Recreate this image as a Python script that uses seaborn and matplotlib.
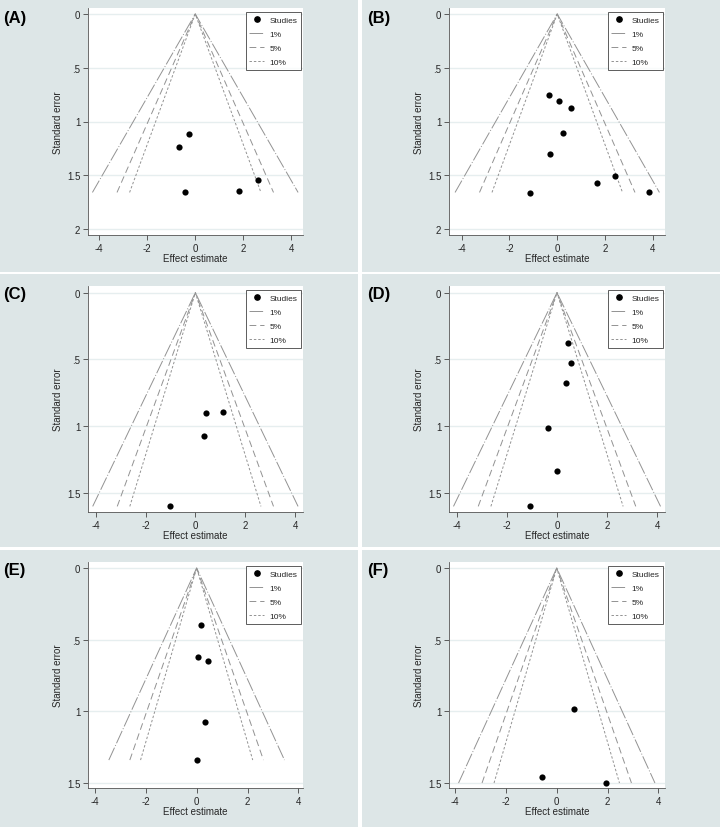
import numpy as np
import pandas as pd
import matplotlib.pyplot as plt
import seaborn as sns
from matplotlib.patches import Rectangle
from matplotlib.lines import Line2D

# study effect estimates and standard errors, one pair of lists per panel
a_effect = [-0.26, -0.67, 2.59, 1.81, -0.44]
a_se = [1.116, 1.24, 1.544, 1.647, 1.659]
b_effect = [-0.36, 0.08, 0.57, 0.23, -0.31, 2.41, 1.68, -1.14, 3.83]
b_se = [0.75, 0.809, 0.874, 1.11, 1.30, 1.504, 1.575, 1.668, 1.659]
c_effect = [0.44, 1.11, 0.35, -1.03]
c_se = [0.898, 0.893, 1.075, 1.60]
d_effect = [0.42, 0.54, 0.36, -0.36, 0.0, -1.08]
d_se = [0.373, 0.525, 0.679, 1.012, 1.338, 1.60]
e_effect = [0.18, 0.05, 0.46, 0.33, 0.0]
e_se = [0.40, 0.623, 0.649, 1.077, 1.34]
f_effect = [0.68, -0.59, 1.95]
f_se = [0.981, 1.458, 1.50]

# max standard error reached by the contour lines
funnel_top = [1.66, 1.66, 1.60, 1.60, 1.34, 1.50]
panel_labels = ['(A)', '(B)', '(C)', '(D)', '(E)', '(F)']
y_ticks_ab = [0, 0.5, 1, 1.5, 2]
y_ticks_cf = [0, 0.5, 1, 1.5]
y_labels_ab = ['0', '.5', '1', '1.5', '2']
y_labels_cf = ['0', '.5', '1', '1.5']
x_ticks = [-4, -2, 0, 2, 4]
levels = ['1%', '5%', '10%']
z_vals = [2.576, 1.96, 1.645]

effects = [a_effect, b_effect, c_effect, d_effect, e_effect, f_effect]
ses = [a_se, b_se, c_se, d_se, e_se, f_se]

sns.set_style('ticks')
plt.rcParams['font.family'] = ['Liberation Sans', 'DejaVu Sans']
plt.rcParams['axes.unicode_minus'] = False

W, H = 720, 828
fig = plt.figure(figsize=(7.2, 8.28), dpi=100)
fig.patch.set_facecolor('white')
bg = '#dde6e7'

#panel background boxes (pixel coords, top-left origin)
cols = [(0, 358), (362, 720)]
rows = [(0, 273), (275, 548), (551, 828)]
for (y0, y1) in rows:
    for (x0, x1) in cols:
        fig.patches.append(Rectangle((x0 / W, 1 - y1 / H), (x1 - x0) / W, (y1 - y0) / H,
                                     transform=fig.transFigure, facecolor=bg,
                                     edgecolor='none', zorder=-10))

#plot areas
plot_rows = [(9, 236), (287, 513), (563, 789)]
plot_cols = [(88, 303), (449, 665)]
xlims = [(-4.46, 4.48), (-4.53, 4.51), (-4.31, 4.32), (-4.3, 4.3), (-4.27, 4.18), (-4.24, 4.26)]
ylims = [(2.056, -0.056), (2.056, -0.056), (1.642, -0.05), (1.642, -0.05), (1.535, -0.042), (1.535, -0.042)]
label_pos = [(3, 18), (367, 18), (3, 295), (367, 295), (3, 571), (367, 571)]

line_styles = [(0, (14, 2, 1, 2)), (0, (7, 4)), (0, (2.5, 2))]
line_col = '#929292'

for i in range(6):
    r, c = i // 2, i % 2
    top, bot = plot_rows[r]
    left, right = plot_cols[c]
    pw, ph = right - left, bot - top
    ax = fig.add_axes([left / W, 1 - bot / H, pw / W, ph / H])
    ax.set_facecolor('white')

    semax = funnel_top[i]
    for z, ls in zip(z_vals, line_styles):
        ax.plot([-z * semax, 0, z * semax], [semax, 0, semax], color=line_col,
                lw=0.7, linestyle=ls, zorder=2)

    df = pd.DataFrame({'effect': effects[i], 'se': ses[i]})
    sns.scatterplot(data=df, x='effect', y='se', ax=ax, color='black', s=20,
                    edgecolor='black', linewidth=0, zorder=3)

    if i < 2:
        ax.set_yticks(y_ticks_ab)
        ax.set_yticklabels(y_labels_ab)
        yt = y_ticks_ab
    else:
        ax.set_yticks(y_ticks_cf)
        ax.set_yticklabels(y_labels_cf)
        yt = y_ticks_cf
    ax.set_xticks(x_ticks)
    ax.set_xlim(*xlims[i])
    ax.set_ylim(*ylims[i])
    for v in yt:
        ax.axhline(v, color='#e6eeef', lw=1.0, zorder=1)

    ax.tick_params(labelsize=7, length=3.5, width=0.6, color='#444444', pad=2)
    for s in ['top', 'right']:
        ax.spines[s].set_visible(False)
    for s in ['left', 'bottom']:
        ax.spines[s].set_color('#555555')
        ax.spines[s].set_linewidth(0.6)
    ax.set_xlabel('Effect estimate', fontsize=7, labelpad=0)
    ax.set_ylabel('Standard error', fontsize=7, labelpad=3)

    handles = [Line2D([], [], marker='o', color='black', linestyle='none', markersize=3.8)]
    for ls in line_styles:
        handles.append(Line2D([], [], color=line_col, lw=0.7, linestyle=ls))
    leg = ax.legend(handles, ['Studies'] + levels, loc='upper right', fontsize=6,
                    frameon=True, fancybox=False, handlelength=1.8, handletextpad=0.6,
                    borderpad=0.45, labelspacing=0.75, borderaxespad=0,
                    bbox_to_anchor=((pw - 2) / pw, 1 - 4 / ph))
    leg.get_frame().set_edgecolor('#333333')
    leg.get_frame().set_linewidth(0.7)

    lx, ly = label_pos[i]
    fig.text(lx / W, 1 - ly / H, panel_labels[i], fontsize=12, fontweight='bold',
             va='center', ha='left', color='black')

fig.savefig('out.png', dpi=100)
